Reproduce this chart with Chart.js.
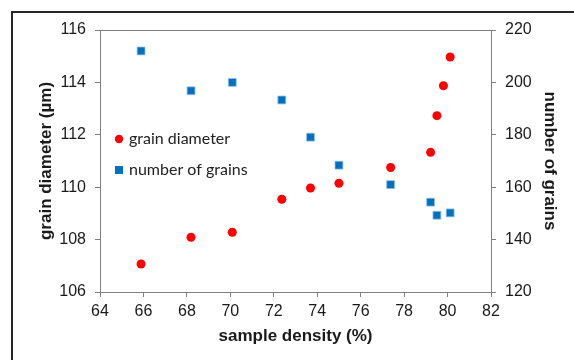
<!DOCTYPE html>
<html>
<head>
<meta charset="utf-8">
<script src="https://cdn.jsdelivr.net/npm/chart.js@4"></script>
<style>
  body { margin: 0; background: #fff; }
  canvas { display: block; }
</style>
</head>
<body>
<canvas id="myChart" width="574" height="360"></canvas>
<script>
/* data */
var densityDiameter = [65.89, 68.19, 70.09, 72.37, 73.69, 75.0, 77.38, 79.22, 79.51, 79.81, 80.12];
var grainDiameter   = [107.07, 108.09, 108.28, 109.54, 109.97, 110.15, 110.75, 111.33, 112.73, 113.87, 114.97];
var densityGrains   = [65.89, 68.19, 70.09, 72.37, 73.69, 75.0, 77.38, 79.22, 79.51, 80.12];
var numberOfGrains  = [212.0, 196.8, 200.0, 193.3, 179.1, 168.4, 161.0, 154.3, 149.3, 150.2];

var xTicks = [64, 66, 68, 70, 72, 74, 76, 78, 80, 82];
var leftTicks = [106, 108, 110, 112, 114, 116];
var rightTicks = [120, 140, 160, 180, 200, 220];

function toPoints(xs, ys) {
  return xs.map(function (x, i) { return { x: x, y: ys[i] }; });
}

var axisGrey = '#808080';
var tickFont = { family: "'Liberation Sans', Arial, sans-serif", size: 16 };
var titleFont = { family: "'Liberation Sans', Arial, sans-serif", size: 17, weight: 'bold' };

/* frame, top line of the plot box and the inner legend */
var decorations = {
  id: 'decorations',
  beforeDraw: function (chart) {
    var ctx = chart.ctx;
    ctx.save();
    ctx.strokeStyle = '#262626';
    ctx.lineWidth = 2;
    ctx.beginPath();
    ctx.moveTo(12, 360);
    ctx.lineTo(12, 12);
    ctx.lineTo(574, 12);
    ctx.stroke();
    ctx.restore();
  },
  afterDraw: function (chart) {
    var ctx = chart.ctx;
    var a = chart.chartArea;
    ctx.save();
    ctx.strokeStyle = axisGrey;
    ctx.lineWidth = 1;
    ctx.beginPath();
    ctx.moveTo(a.left, a.top + 0.5);
    ctx.lineTo(a.right, a.top + 0.5);
    ctx.stroke();

    // legend
    ctx.textBaseline = 'middle';
    ctx.fillStyle = '#ff0000';
    ctx.beginPath();
    ctx.arc(119, 139, 4.2, 0, Math.PI * 2);
    ctx.fill();
    ctx.fillStyle = '#0070c0';
    ctx.fillRect(115, 166, 8, 8);
    ctx.font = "16px 'Lato', sans-serif";
    ctx.fillStyle = '#222';
    ctx.fillText('grain diameter', 129, 139);
    ctx.fillText('number of grains', 129, 170);
    ctx.restore();
  }
};

var ctx = document.getElementById('myChart').getContext('2d');
var chart = new Chart(ctx, {
  type: 'scatter',
  data: {
    datasets: [{
      label: 'grain diameter',
      data: toPoints(densityDiameter, grainDiameter),
      yAxisID: 'y',
      pointStyle: 'circle',
      pointRadius: 4.5,
      backgroundColor: '#ff0000',
      borderColor: '#ff0000',
      borderWidth: 0
    }, {
      label: 'number of grains',
      data: toPoints(densityGrains, numberOfGrains),
      yAxisID: 'y2',
      pointStyle: 'rect',
      pointRadius: 5.6,
      backgroundColor: '#0070c0',
      borderColor: '#9cc2e5',
      borderWidth: 0.8
    }]
  },
  options: {
    responsive: false,
    animation: false,
    layout: { padding: { top: 30, left: 0, right: 0, bottom: 0 } },
    plugins: {
      legend: { display: false },
      tooltip: { enabled: false }
    },
    scales: {
      x: {
        type: 'linear',
        min: 64, max: 82,
        afterBuildTicks: function (s) { s.ticks = xTicks.map(function (v) { return { value: v }; }); },
        afterFit: function (s) { s.height = 68; },
        grid: { drawOnChartArea: false, tickLength: 5, color: axisGrey },
        border: { color: axisGrey },
        ticks: { font: tickFont, color: '#1a1a1a', padding: 5, maxRotation: 0 },
        title: { display: true, text: 'sample density (%)', font: titleFont, color: '#1a1a1a', padding: { top: 0, bottom: 13 } }
      },
      y: {
        position: 'left',
        min: 106, max: 116,
        afterBuildTicks: function (s) { s.ticks = leftTicks.map(function (v) { return { value: v }; }); },
        afterFit: function (s) { s.width = 100; },
        grid: { drawOnChartArea: false, tickLength: 5, color: axisGrey },
        border: { color: axisGrey },
        ticks: { font: tickFont, color: '#1a1a1a', padding: 9 },
        title: { display: true, text: 'grain diameter (µm)', font: titleFont, color: '#1a1a1a', padding: { top: 36, bottom: 0 } }
      },
      y2: {
        position: 'right',
        min: 120, max: 220,
        afterBuildTicks: function (s) { s.ticks = rightTicks.map(function (v) { return { value: v }; }); },
        afterFit: function (s) { s.width = 83; },
        grid: { drawOnChartArea: false, tickLength: 5, color: axisGrey },
        border: { color: axisGrey },
        ticks: { font: tickFont, color: '#1a1a1a', padding: 9 },
        title: { display: true, text: 'number of grains', font: titleFont, color: '#1a1a1a', padding: { top: 14, bottom: 0 } }
      }
    }
  },
  plugins: [decorations]
});
</script>
</body>
</html>
